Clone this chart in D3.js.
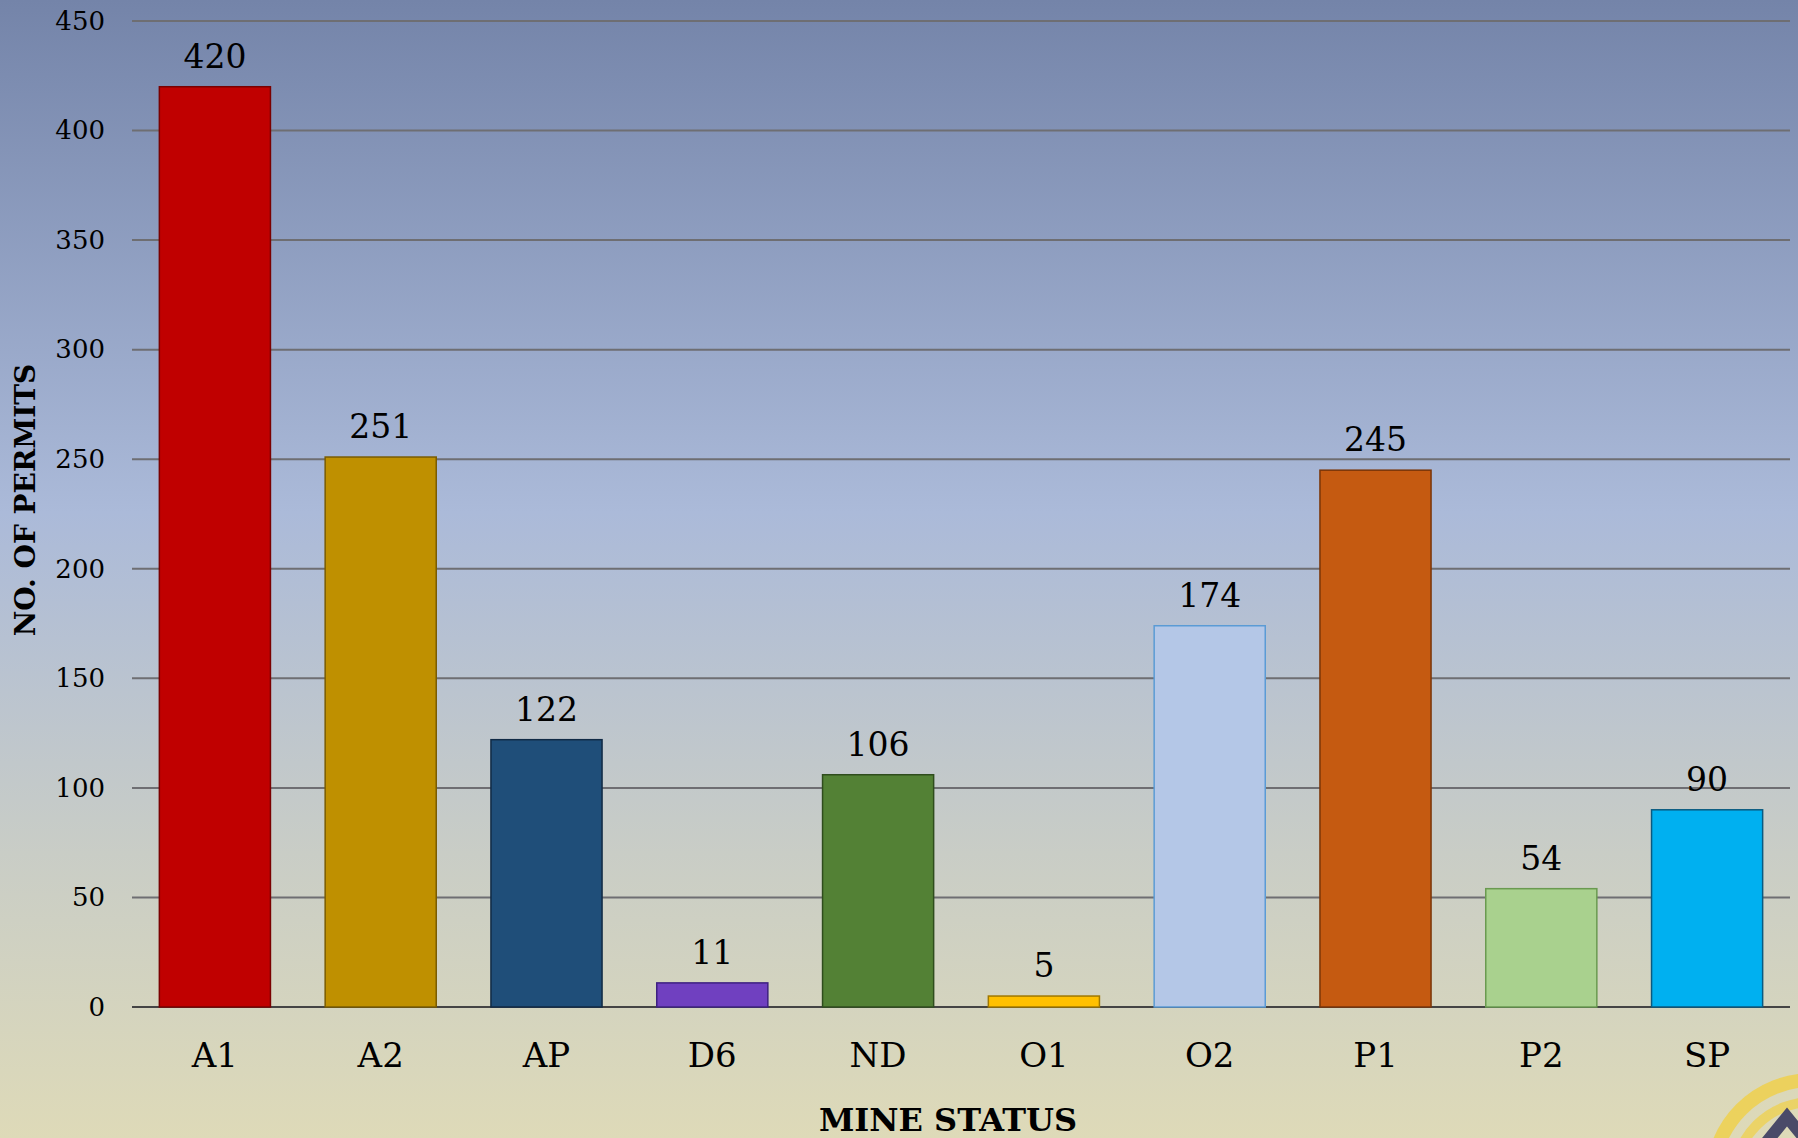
<!DOCTYPE html>
<html>
<head>
<meta charset="utf-8">
<script src="https://cdn.jsdelivr.net/npm/d3@7"></script>
<style>
  html, body { margin: 0; padding: 0; overflow: hidden; }
  svg { display: block; }
</style>
</head>
<body>
<div id="content"></div>
<script>
var categories = ["A1", "A2", "AP", "D6", "ND", "O1", "O2", "P1", "P2", "SP"];
var permits = [420, 251, 122, 11, 106, 5, 174, 245, 54, 90];
var yTicks = [0, 50, 100, 150, 200, 250, 300, 350, 400, 450];
var barColors = ["#c00000", "#bf9000", "#1f4e79", "#7040c0", "#538135", "#ffc000", "#b4c7e7", "#c55a11", "#a9d18e", "#00b0f0"];
var barStrokes = ["#7a0000", "#7a5c00", "#102a45", "#3e2080", "#2f4d1d", "#a07800", "#5b9bd5", "#7a3508", "#6a9a50", "#0a5a80"];

var width = 1798;
var height = 1138;
var margin = { top: 21, right: 8, bottom: 131, left: 132 };

var svg = d3.select("#content").append("svg")
    .attr("width", width)
    .attr("height", height);

// background gradient
var defs = svg.append("defs");
var grad = defs.append("linearGradient")
    .attr("id", "bg")
    .attr("x1", 0).attr("y1", 0).attr("x2", 0).attr("y2", 1);
grad.append("stop").attr("offset", "0%").attr("stop-color", "#7484a9");
grad.append("stop").attr("offset", "45%").attr("stop-color", "#abbad9");
grad.append("stop").attr("offset", "75%").attr("stop-color", "#c9cdc6");
grad.append("stop").attr("offset", "100%").attr("stop-color", "#dedab8");

svg.append("rect")
    .attr("width", width)
    .attr("height", height)
    .attr("fill", "url(#bg)");

var x = d3.scaleBand()
    .domain(categories)
    .range([margin.left, width - margin.right])
    .paddingInner(0.33)
    .paddingOuter(0.165);

var y = d3.scaleLinear()
    .domain([0, 450])
    .range([height - margin.bottom, margin.top]);

// gridlines
svg.append("g")
    .selectAll("line")
    .data(yTicks)
    .enter()
    .append("line")
    .attr("x1", margin.left)
    .attr("x2", width - margin.right)
    .attr("y1", d => y(d))
    .attr("y2", d => y(d))
    .attr("stroke", d => d === 0 ? "#444444" : "#6e6e72")
    .attr("stroke-width", 2);

// y axis labels
var yAxis = d3.axisLeft(y)
    .tickValues(yTicks)
    .tickSize(0)
    .tickPadding(0);

var yAxisG = svg.append("g")
    .attr("transform", `translate(${margin.left - 27}, 0)`)
    .call(yAxis);
yAxisG.select(".domain").remove();
yAxisG.selectAll("text")
    .attr("font-family", "DejaVu Serif, serif")
    .attr("font-size", 26)
    .attr("fill", "#000");

// bars
svg.append("g")
    .selectAll("rect")
    .data(permits)
    .enter()
    .append("rect")
    .attr("x", (d, i) => x(categories[i]))
    .attr("y", d => y(d))
    .attr("width", x.bandwidth())
    .attr("height", d => y(0) - y(d))
    .attr("fill", (d, i) => barColors[i])
    .attr("stroke", (d, i) => barStrokes[i])
    .attr("stroke-width", 1.5);

// value labels
svg.append("g")
    .selectAll("text")
    .data(permits)
    .enter()
    .append("text")
    .attr("x", (d, i) => x(categories[i]) + x.bandwidth() / 2)
    .attr("y", d => y(d) - 19)
    .attr("text-anchor", "middle")
    .attr("font-family", "DejaVu Serif, serif")
    .attr("font-size", 33)
    .attr("fill", "#000")
    .text(d => d);

// x axis labels
var xAxis = d3.axisBottom(x).tickSize(0).tickPadding(0);
var xAxisG = svg.append("g")
    .attr("transform", `translate(0, ${y(0) + 60})`)
    .call(xAxis);
xAxisG.select(".domain").remove();
xAxisG.selectAll("text")
    .attr("dy", 0)
    .attr("font-family", "DejaVu Serif, serif")
    .attr("font-size", 34)
    .attr("fill", "#000");

// axis titles
svg.append("text")
    .attr("x", 948)
    .attr("y", 1131)
    .attr("text-anchor", "middle")
    .attr("font-family", "DejaVu Serif, serif")
    .attr("font-weight", "bold")
    .attr("font-size", 32)
    .attr("fill", "#000")
    .text("MINE STATUS");

svg.append("text")
    .attr("transform", "translate(35, 500) rotate(-90)")
    .attr("text-anchor", "middle")
    .attr("font-family", "DejaVu Serif, serif")
    .attr("font-weight", "bold")
    .attr("font-size", 28)
    .attr("fill", "#000")
    .text("NO. OF PERMITS");

// corner logo fragment
var logo = svg.append("g").attr("transform", "translate(1812, 1180)");
logo.append("circle")
    .attr("r", 100)
    .attr("fill", "none")
    .attr("stroke", "#efd04c")
    .attr("stroke-width", 14)
    .attr("opacity", 0.85);
logo.append("circle")
    .attr("r", 78)
    .attr("fill", "none")
    .attr("stroke", "#efd04c")
    .attr("stroke-width", 10)
    .attr("opacity", 0.75);
logo.append("path")
    .attr("d", "M-52,-30 L-25,-63 L2,-30")
    .attr("fill", "none")
    .attr("stroke", "#4a4a68")
    .attr("stroke-width", 12);
</script>
</body>
</html>
